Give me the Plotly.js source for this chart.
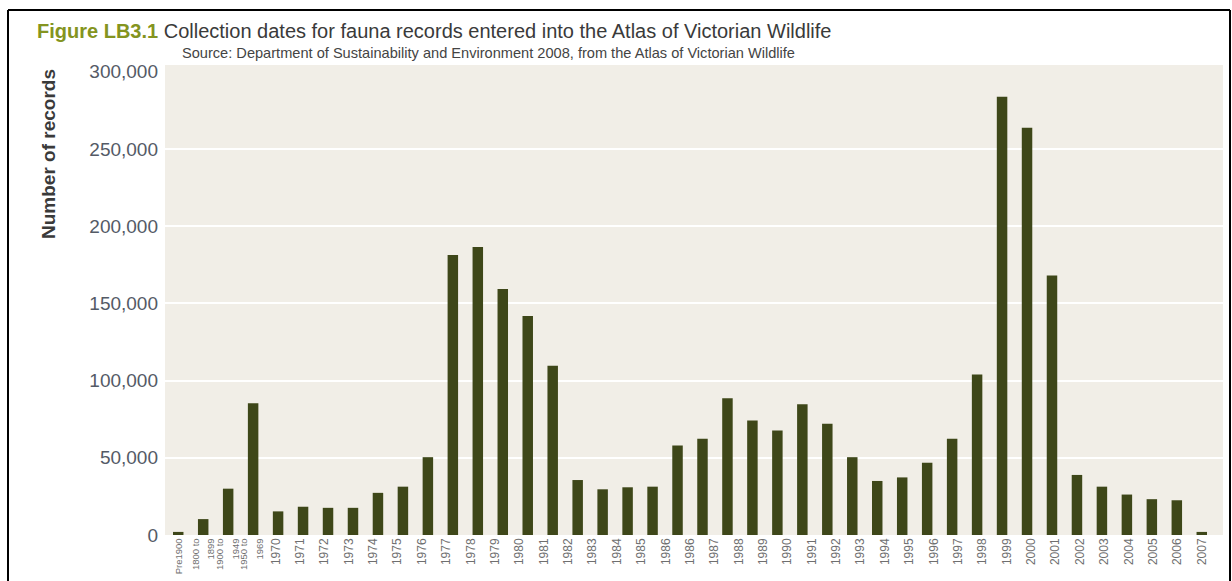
<!DOCTYPE html>
<html>
<head>
<meta charset="utf-8">
<script src="https://cdn.plot.ly/plotly-3.0.1.min.js"></script>
<style>
  html, body { margin: 0; padding: 0; background: #ffffff; }
  #chart { width: 1232px; height: 581px; }
</style>
</head>
<body>
<div id="chart"></div>
<script>
// Periods represented by the bars (42 bars)
const periods = ["Pre1900", "1800 to 1899", "1900 to 1949", "1950 to 1969",
  "1970", "1971", "1972", "1973", "1974", "1975", "1976", "1977", "1978", "1979",
  "1980", "1981", "1982", "1983", "1984", "1985", "1986", "1987", "1988", "1989",
  "1990", "1991", "1992", "1993", "1994", "1995", "1996", "1997", "1998", "1999",
  "2000", "2001", "2002", "2003", "2004", "2005", "2006", "2007"];

// Number of records per period
const records = [2000, 10300, 30000, 85400,
  15300, 18300, 17600, 17600, 27300, 31300, 50400, 181300, 186600, 159400,
  141800, 109600, 35600, 29600, 30900, 31300, 57900, 62400, 88600, 74200,
  67600, 84700, 72100, 50400, 35000, 37300, 46800, 62400, 104000, 283800,
  263800, 168000, 38900, 31300, 26200, 23200, 22500, 2000];

// Tick labels exactly as printed on the figure (43 labels, "1986" printed twice)
const tickLabels = ["Pre1900", "1800 to<br>1899", "1900 to<br>1949", "1950 to<br>1969",
  "1970", "1971", "1972", "1973", "1974", "1975", "1976", "1977", "1978", "1979",
  "1980", "1981", "1982", "1983", "1984", "1985", "1986", "1986", "1987", "1988",
  "1989", "1990", "1991", "1992", "1993", "1994", "1995", "1996", "1997", "1998",
  "1999", "2000", "2001", "2002", "2003", "2004", "2005", "2006", "2007"];

const yTicks = [0, 50000, 100000, 150000, 200000, 250000, 300000];
const yTickText = ["0", "50,000", "100,000", "150,000", "200,000", "250,000", "300,000"];
const gridValues = [50000, 100000, 150000, 200000, 250000];

const barX = records.map((_, i) => i);
// labels are spread evenly across the same span as the bars
const nB = records.length, nL = tickLabels.length;
const tickVals = tickLabels.map((_, j) => j * (nB - 1) / (nL - 1));
// the early period labels are printed in a smaller size
const tickText = tickLabels.map((t, j) => j < 4 ? "<span style='font-size:9.5px'>" + t + "</span>" : t);

// plot-area geometry in pixels
const W = 1232, H = 581;
const L = 165, R = 1223, T = 65, B = 535;
const px2x = p => (p - L) / (R - L);
const px2y = p => (B - p) / (B - T);

const font = "Liberation Sans, Arial, Helvetica, sans-serif";

const trace = {
  type: "bar",
  x: barX,
  y: records,
  customdata: periods,
  textposition: "none",
  hovertemplate: "%{customdata}: %{y:,}<extra></extra>",
  marker: { color: "#3e4719", line: { width: 0 } },
  width: 0.42
};

const frame = { color: "#000000", width: 2 };
const layout = {
  width: W, height: H,
  margin: { l: L, r: W - R, t: T, b: H - B, pad: 0 },
  paper_bgcolor: "#ffffff",
  plot_bgcolor: "#f1eee7",
  showlegend: false,
  title: {
    text: "<b><span style='color:#849420'>Figure LB3.1</span></b> Collection dates for fauna records entered into the Atlas of Victorian Wildlife",
    font: { family: font, size: 20, color: "#3a3a3a" },
    xref: "container", yref: "container",
    x: 37 / W, xanchor: "left",
    y: 1 - 31 / H, yanchor: "middle"
  },
  xaxis: {
    range: [-0.53, 41.85],
    tickmode: "array",
    tickvals: tickVals,
    ticktext: tickText,
    tickangle: -90,
    tickfont: { family: font, size: 12, color: "#6f6f6f" },
    showgrid: false, zeroline: false, showline: false, ticks: "",
    fixedrange: true
  },
  yaxis: {
    range: [0, 304400],
    tickmode: "array",
    tickvals: yTicks,
    ticktext: yTickText,
    tickfont: { family: font, size: 19, color: "#545a66" },
    ticklabelstandoff: 6,
    showgrid: false,
    zeroline: false, showline: false, ticks: "",
    minor: { tickmode: "array", tickvals: gridValues, showgrid: true, gridcolor: "#ffffff", gridwidth: 2, ticks: "" },
    fixedrange: true
  },
  annotations: [
    {
      text: "Source: Department of Sustainability and Environment 2008, from the Atlas of Victorian Wildlife",
      xref: "paper", yref: "paper",
      x: px2x(180), y: px2y(53),
      xanchor: "left", yanchor: "middle", showarrow: false,
      font: { family: font, size: 14.6, color: "#444444" }
    },
    {
      text: "<b>Number of records</b>",
      xref: "paper", yref: "paper",
      x: px2x(48), y: px2y(67),
      xanchor: "center", yanchor: "top", textangle: -90, showarrow: false,
      font: { family: font, size: 19, color: "#3a3a3a" }
    }
  ],
  shapes: [
    { type: "line", xref: "paper", yref: "paper", x0: px2x(8), x1: px2x(8), y0: px2y(10), y1: px2y(600), line: frame },
    { type: "line", xref: "paper", yref: "paper", x0: px2x(8), x1: px2x(1230), y0: px2y(10), y1: px2y(10), line: frame },
    { type: "line", xref: "paper", yref: "paper", x0: px2x(1230), x1: px2x(1230), y0: px2y(10), y1: px2y(600), line: frame }
  ],
  bargap: 0.58
};

Plotly.newPlot("chart", [trace], layout, { displayModeBar: false, staticPlot: true });
</script>
</body>
</html>
